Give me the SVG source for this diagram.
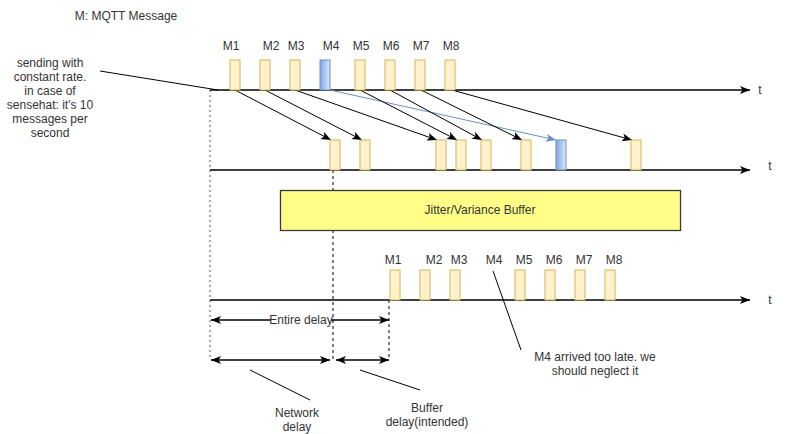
<svg xmlns="http://www.w3.org/2000/svg" width="791" height="434" viewBox="0 0 791 434">
<style>
text{font-family:"Liberation Sans",Arial,sans-serif;font-size:12px;fill:#333333;text-anchor:middle;dominant-baseline:central}
.msg{fill:#fff2cc;stroke:#d6b656;stroke-width:1}
.blue{fill:url(#bg);stroke:#6c8ebf;stroke-width:1}
.ax{stroke:#000;stroke-width:1.3;fill:none}
.ln{stroke:#000;stroke-width:1;fill:none}
.bl{stroke:#6c8ebf;stroke-width:1;fill:none}
.dot{stroke:#555;stroke-width:1;stroke-dasharray:2,3;fill:none}
.dash{stroke:#000;stroke-width:1;stroke-dasharray:3,3;fill:none}
</style>
<defs>
<linearGradient id="bg" x1="0" y1="0" x2="1" y2="0"><stop offset="0" stop-color="#7ea6e0"/><stop offset="1" stop-color="#dae8fc"/></linearGradient>
<marker id="a" viewBox="0 0 10 8" refX="10" refY="4" markerWidth="10" markerHeight="8" markerUnits="userSpaceOnUse" orient="auto-start-reverse"><path d="M0,0 L10,4 L0,8 L2.5,4 Z" fill="#000"/></marker>
<marker id="ab" viewBox="0 0 10 8" refX="10" refY="4" markerWidth="10" markerHeight="8" markerUnits="userSpaceOnUse" orient="auto"><path d="M0,0 L10,4 L0,8 L2.5,4 Z" fill="#6c8ebf"/></marker>
</defs>

<text x="126" y="16">M: MQTT Message</text>

<g id="connectors">
<line class="dot" x1="210" y1="90" x2="210" y2="360"/>
<line class="dash" x1="333" y1="170" x2="333" y2="360"/>
<line class="dash" x1="389" y1="300" x2="389" y2="360"/>
<line class="ax" x1="210" y1="90" x2="750" y2="90" marker-end="url(#a)"/>
<line class="ax" x1="210" y1="170" x2="750" y2="170" marker-end="url(#a)"/>
<line class="ax" x1="210" y1="300" x2="750" y2="300" marker-end="url(#a)"/>
<line class="ln" x1="100" y1="71" x2="218" y2="90"/>
<line class="ln" x1="235" y1="90" x2="331" y2="140" marker-end="url(#a)"/>
<line class="ln" x1="265" y1="90" x2="362" y2="140" marker-end="url(#a)"/>
<line class="ln" x1="295" y1="90" x2="437" y2="140" marker-end="url(#a)"/>
<line class="bl" x1="330" y1="90" x2="556" y2="140" marker-end="url(#ab)"/>
<line class="ln" x1="360" y1="90" x2="457" y2="140" marker-end="url(#a)"/>
<line class="ln" x1="390" y1="90" x2="482" y2="140" marker-end="url(#a)"/>
<line class="ln" x1="421" y1="90" x2="522" y2="140" marker-end="url(#a)"/>
<line class="ln" x1="452" y1="90" x2="632" y2="140" marker-end="url(#a)"/>
<line class="ln" x1="493" y1="271" x2="521" y2="350"/>
<line class="ax" x1="211" y1="320" x2="389" y2="320" marker-start="url(#a)" marker-end="url(#a)"/>
<line class="ax" x1="211" y1="360" x2="330" y2="360" marker-start="url(#a)" marker-end="url(#a)"/>
<line class="ax" x1="336" y1="360" x2="389" y2="360" marker-start="url(#a)" marker-end="url(#a)"/>
<line class="ln" x1="250" y1="370" x2="310" y2="400"/>
<line class="ln" x1="360" y1="370" x2="420" y2="390"/>
</g>

<g id="top-messages">
<rect class="msg" x="230" y="60" width="10" height="30"/>
<rect class="msg" x="260" y="60" width="10" height="30"/>
<rect class="msg" x="290" y="60" width="10" height="30"/>
<rect class="blue" x="320" y="60" width="10" height="30"/>
<rect class="msg" x="355" y="60" width="10" height="30"/>
<rect class="msg" x="385" y="60" width="10" height="30"/>
<rect class="msg" x="415" y="60" width="10" height="30"/>
<rect class="msg" x="445" y="60" width="10" height="30"/>
<text x="231" y="46">M1</text>
<text x="271" y="46">M2</text>
<text x="296" y="46">M3</text>
<text x="331" y="46">M4</text>
<text x="361" y="46">M5</text>
<text x="391" y="46">M6</text>
<text x="421" y="46">M7</text>
<text x="451" y="46">M8</text>
<text x="760" y="90">t</text>
</g>

<g id="arrived-messages">
<rect class="msg" x="330" y="140" width="10" height="30"/>
<rect class="msg" x="360" y="140" width="10" height="30"/>
<rect class="msg" x="436" y="140" width="10" height="30"/>
<rect class="msg" x="456" y="140" width="10" height="30"/>
<rect class="msg" x="481" y="140" width="10" height="30"/>
<rect class="msg" x="521" y="140" width="10" height="30"/>
<rect class="blue" x="556" y="140" width="10" height="30"/>
<rect class="msg" x="631" y="140" width="10" height="30"/>
<text x="770" y="166">t</text>
</g>

<g id="buffer">
<rect x="280.5" y="190.5" width="400" height="40" fill="#ffff88" stroke="#36393d" stroke-width="1.3"/>
<text x="480" y="210">Jitter/Variance Buffer</text>
</g>

<g id="played-messages">
<rect class="msg" x="390" y="270" width="10" height="30"/>
<rect class="msg" x="420" y="270" width="10" height="30"/>
<rect class="msg" x="450" y="270" width="10" height="30"/>
<rect class="msg" x="515" y="270" width="10" height="30"/>
<rect class="msg" x="545" y="270" width="10" height="30"/>
<rect class="msg" x="575" y="270" width="10" height="30"/>
<rect class="msg" x="605" y="270" width="10" height="30"/>
<text x="393" y="260">M1</text>
<text x="434" y="260">M2</text>
<text x="459" y="260">M3</text>
<text x="494" y="260">M4</text>
<text x="524" y="260">M5</text>
<text x="554" y="260">M6</text>
<text x="584" y="260">M7</text>
<text x="614" y="260">M8</text>
<text x="770" y="300">t</text>
</g>

<g id="sending-note">
<text x="50" y="63">sending with</text>
<text x="50" y="77">constant rate.</text>
<text x="50" y="91">in case of</text>
<text x="50" y="105">sensehat: it's 10</text>
<text x="50" y="119">messages per</text>
<text x="50" y="133">second</text>
</g>

<g id="entire-delay">
<rect x="271" y="313" width="60" height="14" fill="#fff"/>
<text x="301" y="320">Entire delay</text>
</g>

<g id="late-note">
<text x="595" y="357">M4 arrived too late. we</text>
<text x="595" y="371">should neglect it</text>
</g>

<g id="network-delay">
<text x="297" y="413">Network</text>
<text x="297" y="427">delay</text>
</g>

<g id="buffer-delay">
<text x="427" y="408">Buffer</text>
<text x="427" y="422">delay(intended)</text>
</g>
</svg>
